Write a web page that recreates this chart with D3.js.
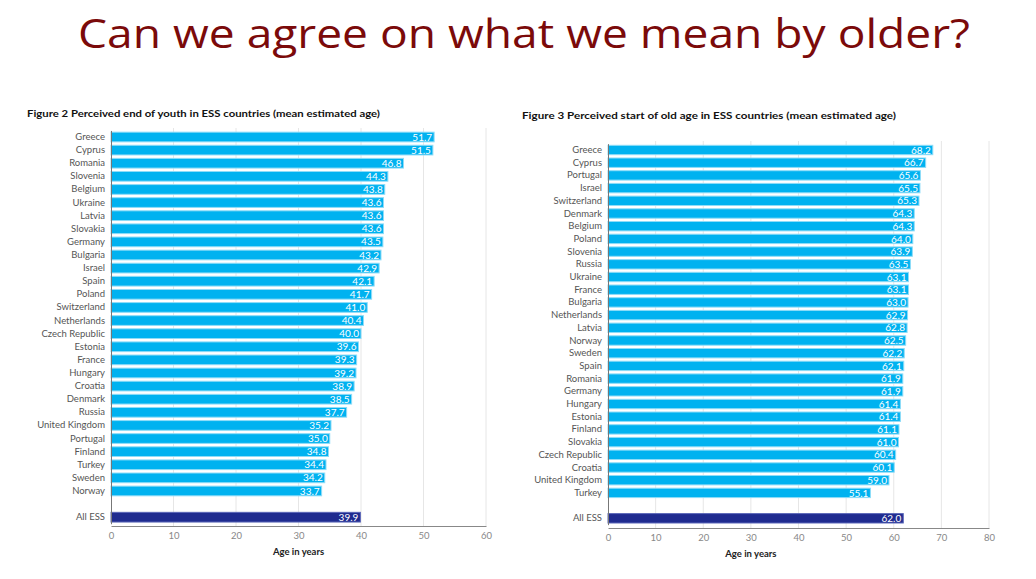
<!DOCTYPE html>
<html>
<head>
<meta charset="utf-8">
<script src="https://cdn.jsdelivr.net/npm/d3@7"></script>
<style>
  body { margin: 0; background: #fff; }
  svg text { font-family: "Lato", "Open Sans", sans-serif; }
</style>
</head>
<body>
<div id="container"></div>
<script>
// Figure 2 - perceived end of youth
const youthCountries = ["Greece", "Cyprus", "Romania", "Slovenia", "Belgium", "Ukraine", "Latvia", "Slovakia",
  "Germany", "Bulgaria", "Israel", "Spain", "Poland", "Switzerland", "Netherlands", "Czech Republic",
  "Estonia", "France", "Hungary", "Croatia", "Denmark", "Russia", "United Kingdom", "Portugal",
  "Finland", "Turkey", "Sweden", "Norway"];
const youthValues = [51.7, 51.5, 46.8, 44.3, 43.8, 43.6, 43.6, 43.6, 43.5, 43.2, 42.9, 42.1, 41.7, 41.0,
  40.4, 40.0, 39.6, 39.3, 39.2, 38.9, 38.5, 37.7, 35.2, 35.0, 34.8, 34.4, 34.2, 33.7];
const youthAll = 39.9;
const youthTicks = [0, 10, 20, 30, 40, 50, 60];

// Figure 3 - perceived start of old age
const oldCountries = ["Greece", "Cyprus", "Portugal", "Israel", "Switzerland", "Denmark", "Belgium", "Poland",
  "Slovenia", "Russia", "Ukraine", "France", "Bulgaria", "Netherlands", "Latvia", "Norway", "Sweden",
  "Spain", "Romania", "Germany", "Hungary", "Estonia", "Finland", "Slovakia", "Czech Republic",
  "Croatia", "United Kingdom", "Turkey"];
const oldValues = [68.2, 66.7, 65.6, 65.5, 65.3, 64.3, 64.3, 64.0, 63.9, 63.5, 63.1, 63.1, 63.0, 62.9,
  62.8, 62.5, 62.2, 62.1, 61.9, 61.9, 61.4, 61.4, 61.1, 61.0, 60.4, 60.1, 59.0, 55.1];
const oldAll = 62.0;
const oldTicks = [0, 10, 20, 30, 40, 50, 60, 70, 80];

const W = 1036, H = 579;
const svg = d3.select("#container").append("svg")
    .attr("width", W)
    .attr("height", H);

svg.append("text")
    .attr("x", 78)
    .attr("y", 48)
    .attr("textLength", 892)
    .attr("lengthAdjust", "spacingAndGlyphs")
    .style("font-family", "'Open Sans', sans-serif")
    .style("font-size", "40px")
    .style("fill", "#7b0a0a")
    .text("Can we agree on what we mean by older?");

function drawChart(opts) {
    const names = opts.countries.concat(["__gap", "All ESS"]);
    const vals = opts.values.concat([null, opts.all]);
    const data = names.map((n, i) => ({ name: n, value: vals[i] }))
        .filter(d => d.value !== null);

    const x = d3.scaleLinear()
        .domain([0, opts.max])
        .range([opts.x0, opts.x1]);

    const step = opts.step;
    const y = d3.scaleBand()
        .domain(names)
        .range([opts.firstY - step / 2, opts.firstY - step / 2 + names.length * step])
        .paddingInner(0.26)
        .paddingOuter(0.13);

    svg.append("text")
        .attr("x", opts.titleX)
        .attr("y", opts.titleY)
        .attr("textLength", opts.titleW)
        .attr("lengthAdjust", "spacingAndGlyphs")
        .style("font-size", "9.5px")
        .style("font-weight", "bold")
        .style("fill", "#111")
        .text(opts.title);

    // gridlines
    svg.append("g")
        .selectAll("line")
        .data(opts.ticks.slice(1))
        .enter().append("line")
        .attr("x1", d => x(d))
        .attr("x2", d => x(d))
        .attr("y1", opts.gridTop)
        .attr("y2", opts.axisY)
        .style("stroke", "#e6e6e6")
        .style("stroke-width", 1);

    // bars
    svg.append("g")
        .selectAll("rect")
        .data(data)
        .enter().append("rect")
        .attr("x", x(0))
        .attr("y", d => y(d.name))
        .attr("width", d => x(d.value) - x(0))
        .attr("height", y.bandwidth())
        .style("fill", d => d.name === "All ESS" ? "#1f2b8f" : "#00b2f0")
        .style("stroke", d => d.name === "All ESS" ? "#5a66b8" : "#8edcf8")
        .style("stroke-width", 1);

    // value labels
    svg.append("g")
        .selectAll("text")
        .data(data)
        .enter().append("text")
        .attr("x", d => x(d.value) - 2)
        .attr("y", d => y(d.name) + y.bandwidth() / 2)
        .attr("dy", "0.36em")
        .style("text-anchor", "end")
        .style("font-size", "10px")
        .style("fill", "#fff")
        .text(d => d.value.toFixed(1));

    // country labels
    const yAxis = svg.append("g")
        .attr("transform", `translate(${x(0)},0)`)
        .call(d3.axisLeft(y).tickSize(0).tickPadding(6)
            .tickFormat(d => d === "__gap" ? "" : d));
    yAxis.select(".domain").style("stroke", "#777");
    yAxis.selectAll("text")
        .style("font-family", "'Lato', sans-serif")
        .style("font-size", "9.5px")
        .style("fill", "#555");

    // x axis
    const xAxis = svg.append("g")
        .attr("transform", `translate(0,${opts.axisY})`)
        .call(d3.axisBottom(x).tickValues(opts.ticks).tickSize(0).tickPadding(6));
    xAxis.select(".domain").style("stroke", "#888");
    xAxis.selectAll("text")
        .style("font-size", "9.5px")
        .style("fill", "#888");

    svg.append("text")
        .attr("x", x(opts.ticks[3]))
        .attr("y", opts.axisY + 29)
        .style("text-anchor", "middle")
        .style("font-size", "9.5px")
        .style("font-weight", "bold")
        .style("fill", "#222")
        .text("Age in years");
}

drawChart({
    title: "Figure 2 Perceived end of youth in ESS countries (mean estimated age)",
    titleX: 27, titleY: 117, titleW: 353,
    countries: youthCountries, values: youthValues, all: youthAll,
    ticks: youthTicks, max: 60,
    x0: 111, x1: 486,
    firstY: 137, step: 13.11,
    gridTop: 128, axisY: 526
});

drawChart({
    title: "Figure 3 Perceived start of old age in ESS countries (mean estimated age)",
    titleX: 522, titleY: 119, titleW: 374,
    countries: oldCountries, values: oldValues, all: oldAll,
    ticks: oldTicks, max: 80,
    x0: 608, x1: 989,
    firstY: 150, step: 12.7,
    gridTop: 141, axisY: 528
});
</script>
</body>
</html>
